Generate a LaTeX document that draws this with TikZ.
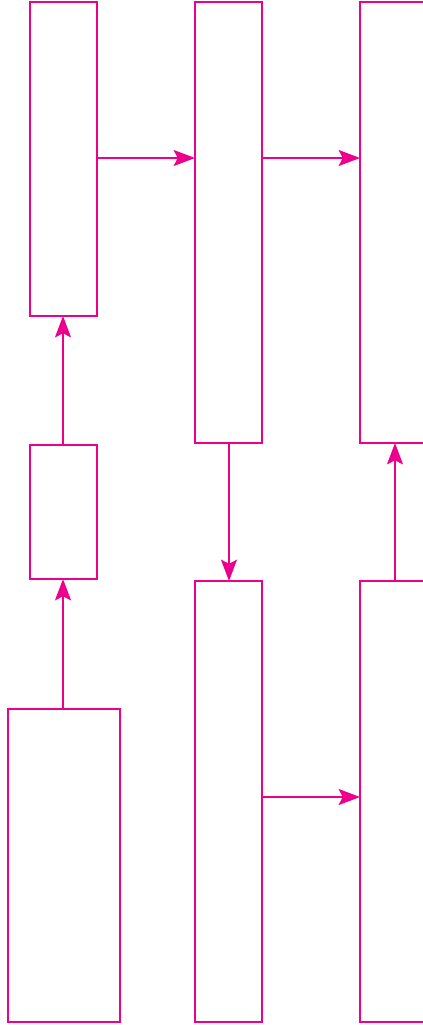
\documentclass[tikz,border=0pt]{standalone}
\usetikzlibrary{arrows.meta}
\definecolor{mag}{HTML}{EC008C}
\begin{document}
\begin{tikzpicture}[x=0.75pt,y=-0.75pt,
  box/.style={draw=mag,line width=1.1pt,inner sep=0pt,outer sep=0pt,anchor=north west},
  conn/.style={draw=mag,line width=1.1pt,-{Stealth[length=16pt,width=12pt,inset=3pt]}}]
\clip (0,0) rectangle (423,1025);
\useasboundingbox (0,0) rectangle (423,1025);
\node[box,minimum width=67*0.75pt,minimum height=314*0.75pt] (A) at (30,2) {};
\node[box,minimum width=67*0.75pt,minimum height=134*0.75pt] (B) at (30,445) {};
\node[box,minimum width=112*0.75pt,minimum height=313*0.75pt] (C) at (8,709) {};
\node[box,minimum width=67*0.75pt,minimum height=441*0.75pt] (D) at (195,2) {};
\node[box,minimum width=67*0.75pt,minimum height=441*0.75pt] (E) at (195,581) {};
\node[box,minimum width=80*0.75pt,minimum height=441*0.75pt] (F) at (360,2) {};
\node[box,minimum width=80*0.75pt,minimum height=441*0.75pt] (G) at (360,581) {};
\draw[conn] (A.east |- 0,158) -- (D.west |- 0,158);
\draw[conn] (D.east |- 0,158) -- (F.west |- 0,158);
\draw[conn] ([xshift=-0.375pt]B.north) -- ([xshift=-0.375pt]A.south);
\draw[conn] ([xshift=-0.375pt]B.south |- C.north) -- ([xshift=-0.375pt]B.south);
\draw[conn] ([xshift=0.375pt]D.south) -- ([xshift=0.375pt]E.north);
\draw[conn] (E.east |- 0,797) -- (G.west |- 0,797);
\draw[conn] (G.north west) ++(35,0) coordinate (g1) (g1) -- (g1 |- F.south);
\end{tikzpicture}
\end{document}
